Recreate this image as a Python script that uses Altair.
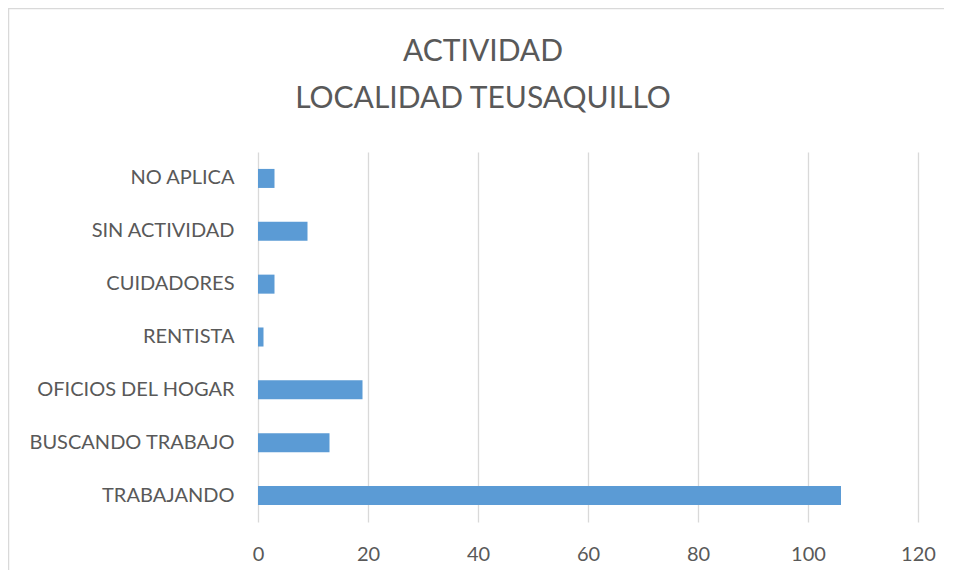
import altair as alt
import pandas as pd

categories = ["NO APLICA", "SIN ACTIVIDAD", "CUIDADORES", "RENTISTA",
              "OFICIOS DEL HOGAR", "BUSCANDO TRABAJO", "TRABAJANDO"]
values = [3, 9, 3, 1, 19, 13, 106]
x_ticks = [0, 20, 40, 60, 80, 100, 120]
title_lines = ["ACTIVIDAD", "LOCALIDAD TEUSAQUILLO"]

df = pd.DataFrame({"cat": categories, "val": values})

FONT = "Lato"
TXT = "#595959"
GRID = "#d9d9d9"

one = pd.DataFrame({"a": [0]})

border = alt.Chart(one).mark_rect(
    fillOpacity=0, stroke=GRID, strokeWidth=1.5, clip=False
).encode(
    x=alt.value(-249.5), x2=alt.value(740),
    y=alt.value(-143.5), y2=alt.value(460)
)

title = alt.Chart(one).mark_text(
    text=title_lines, font=FONT, fontSize=30, color=TXT, lineHeight=47.5,
    align="center", baseline="alphabetic"
).encode(x=alt.value(225), y=alt.value(-91.3))

bars = alt.Chart(df).mark_bar(color="#5B9BD5").encode(
    y=alt.Y("cat:N", sort=categories,
            scale=alt.Scale(paddingInner=0.64, paddingOuter=0.32),
            axis=alt.Axis(title=None, ticks=False, domain=False, grid=False,
                          labelFont=FONT, labelFontSize=20, labelColor=TXT,
                          labelPadding=24, labelLimit=300)),
    x=alt.X("val:Q", scale=alt.Scale(domain=[0, 120], nice=False),
            axis=alt.Axis(title=None, values=x_ticks, ticks=False, domain=False,
                          grid=True, gridColor=GRID, gridWidth=1.3,
                          labelFlush=False,
                          labelFont=FONT, labelFontSize=20, labelColor=TXT,
                          labelPadding=22))
)

chart = alt.layer(border, title, bars).properties(
    width=660, height=370,
    autosize=alt.AutoSizeParams(type="none"),
    padding={"left": 250, "top": 144, "right": 26, "bottom": 48},
).configure_view(stroke=None)

chart.save("out.html", embed_options={"renderer": "svg", "actions": False})
